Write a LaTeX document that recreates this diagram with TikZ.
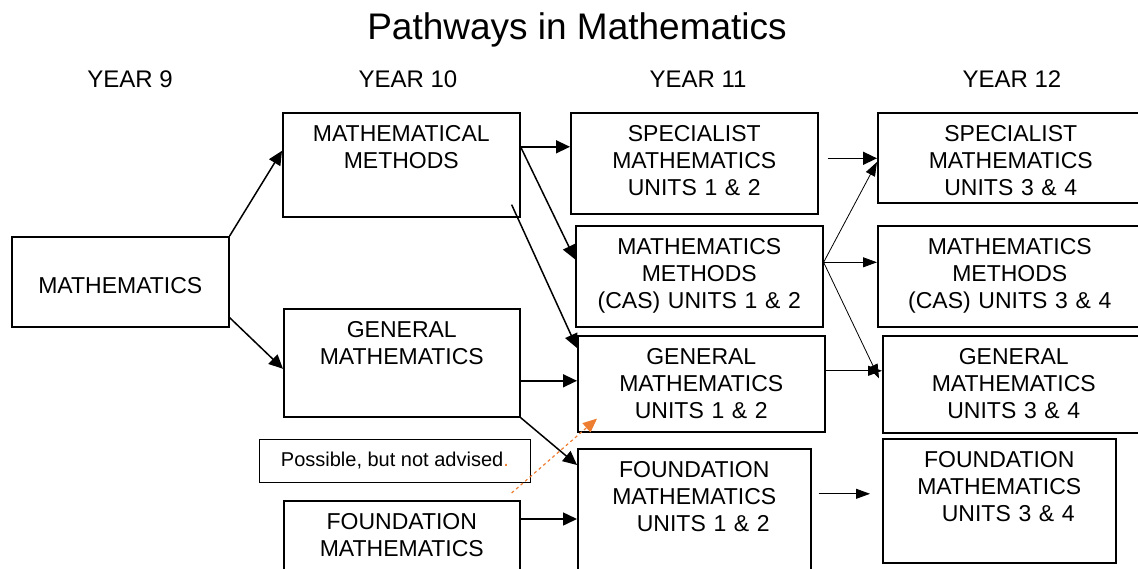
\documentclass[tikz,border=0pt]{standalone}
\usepackage{fontspec}
\setmainfont{Liberation Sans}
\usepackage{xcolor}
\usetikzlibrary{positioning, arrows.meta, calc}
\definecolor{advisecolor}{RGB}{237, 125, 49}

\begin{document}
\begin{tikzpicture}[
  x=1pt, y=-1pt,
  font=\fontsize{23}{27}\selectfont,
  subject/.style={draw, line width=1.6pt, anchor=north west, inner sep=0pt, align=center, text height=29pt},
  yearlabel/.style={anchor=base, inner sep=0pt, font=\fontsize{24}{28}\selectfont},
  path/.style={line width=1.5pt, -{Triangle[length=14pt,width=13pt]}},
  thinpath/.style={line width=0.8pt, -{Triangle[length=14pt,width=10pt]}}
]
\useasboundingbox (0,0) rectangle (1138,568);

\node[anchor=base] (title) at (577,39) {\fontsize{37}{42}\selectfont Pathways in Mathematics};
\node[yearlabel] (year9) at (130,87) {YEAR 9};
\node[yearlabel] (year10) at (408,87) {YEAR 10};
\node[yearlabel] (year11) at (698,87) {YEAR 11};
\node[yearlabel] (year12) at (1012,87) {YEAR 12};

% year 9 and 10
\node[subject, text width=217pt, text height=57pt, text depth=33pt] (maths9) at (11,236) {MATHEMATICS};
\node[subject, text width=237pt, text depth=75pt] (methods10) at (282,112) {MATHEMATICAL\\METHODS};
\node[subject, text width=236pt, text depth=79pt] (general10) at (283,308) {GENERAL\\MATHEMATICS};
\node[subject, text width=236pt, text depth=51pt] (found10) at (283,500) {FOUNDATION\\MATHEMATICS};
\node[draw, line width=0.8pt, anchor=north west, inner sep=0pt, minimum width=271pt, minimum height=43pt,
  font=\fontsize{20}{24}\selectfont] (advice) at (259,439) {Possible, but not advised\textcolor{advisecolor}{.}};

% year 11
\node[subject, text width=247pt, text depth=72pt] (spec11) at (570,112) {SPECIALIST\\MATHEMATICS\\UNITS 1 \& 2};
\node[subject, text width=247pt, text depth=72pt] (methods11) at (575,225) {MATHEMATICS\\METHODS\\(CAS) UNITS 1 \& 2};
\node[subject, text width=247pt, text depth=67pt] (general11) at (577,335) {GENERAL\\MATHEMATICS\\UNITS 1 \& 2};
\node[subject, text width=233pt, text depth=101pt] (found11) at (577,448) {FOUNDATION\\MATHEMATICS\\\hspace*{18pt}UNITS 1 \& 2};

% year 12
\node[subject, text width=266pt, text depth=61pt] (spec12) at (877,112) {SPECIALIST\\MATHEMATICS\\UNITS 3 \& 4};
\node[subject, text width=264pt, text depth=72pt] (methods12) at (877,225) {MATHEMATICS\\METHODS\\(CAS) UNITS 3 \& 4};
\node[subject, text width=262pt, text depth=68pt] (general12) at (882,335) {GENERAL\\MATHEMATICS\\UNITS 3 \& 4};
\node[subject, text width=233pt, text depth=95pt] (found12) at (882,438) {FOUNDATION\\MATHEMATICS\\\hspace*{18pt}UNITS 3 \& 4};

% arrows
\draw[path] (maths9.north east) -- ([yshift=14pt]methods10.west);
\draw[path] ([yshift=10pt]maths9.south east) -- ([yshift=-6pt]general10.west);
\draw[path] ([yshift=18pt]methods10.east) -- ([yshift=18pt]methods10.east -| spec11.west);
\draw[path] ([yshift=18pt]methods10.east) -- ([yshift=17pt]methods11.west);
\draw[path] ([xshift=-9pt,yshift=13pt]methods10.south east) -- ([yshift=-13pt]general11.north west);
\draw[path] ([yshift=-18pt]general10.east) -- ([yshift=-18pt]general10.east -| general11.west);
\draw[path] (general10.south east) -- ([yshift=-17pt]found11.north west);
\draw[path] ([yshift=-19pt]found10.north east) -- ([yshift=-19pt]found10.north east -| found11.west);
\draw[line width=1.2pt, dashed, advisecolor, -{Triangle[length=14pt,width=12pt]}]
  ([xshift=-9pt,yshift=7pt]found10.north east) -- ([xshift=20pt,yshift=14pt]general11.south west);

\draw[path, shorten <=9pt] ([yshift=5pt]spec11.east) -- ([yshift=5pt]spec11.east -| spec12.west);
\coordinate (hub) at ([yshift=14pt]methods11.east);
\draw[thinpath] (hub) -- ([yshift=-50pt]spec12.north west);
\draw[thinpath] (hub) -- (hub -| methods12.west);
\draw[thinpath] (hub) -- ([xshift=-3pt,yshift=6pt]general12.west);
\draw[thinpath] ([yshift=13pt]general11.east) -- ([yshift=13pt]general11.east -| general12.west);
\draw[thinpath, shorten <=7pt, shorten >=12pt] ([yshift=20pt]found11.east) -- ([yshift=20pt]found11.east -| found12.west);
\end{tikzpicture}
\end{document}
